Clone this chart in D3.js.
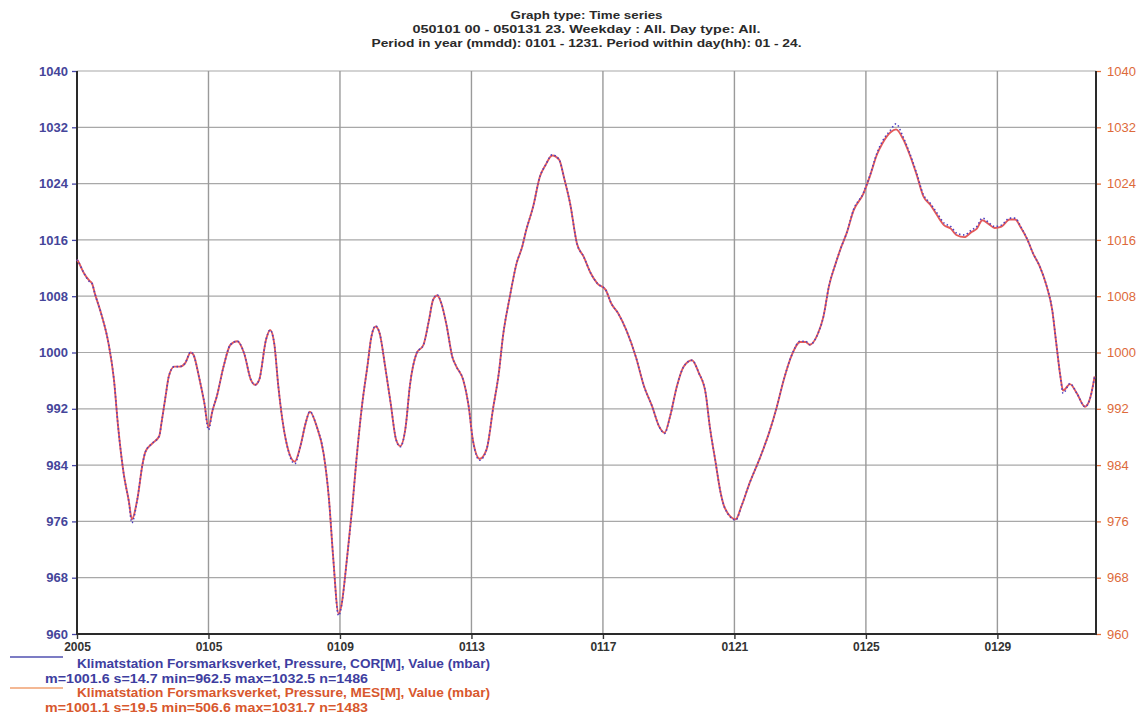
<!DOCTYPE html>
<html>
<head>
<meta charset="utf-8">
<script src="https://cdn.jsdelivr.net/npm/d3@7"></script>
<style>
html,body{margin:0;padding:0;background:#fff;}
svg{display:block;}
text{font-family:"Liberation Sans",Arial,sans-serif;}
</style>
</head>
<body>
<svg id="chart" width="1148" height="718"></svg>
<script>
// ---- data (hours since 2005-01-01 00:00, pressure in mbar) ----
const titleLines = [
  "Graph type: Time series",
  "050101 00 - 050131 23. Weekday : All. Day type: All.",
  "Period in year (mmdd): 0101 - 1231. Period within day(hh): 01 - 24."
];
const hours = [0,1,5,9,11,13,18,23,27,30,34,38,40,44,48,50,55,60,62,65,67,71,75,79,83,85,89,93,96,99,102,107,112,117,122,127,130,133,138,141,144,147,150,153,159,163,167,170,175,180,184,187,191,193,197,201,204,208,212,215,218,221,225,229,233,236,240,243,248,253,257,260,263,266,270,274,277,282,286,289,294,299,304,308,311,316,321,325,328,333,338,342,347,352,356,360,365,370,375,380,386,390,395,401,408,414,420,425,429,433,438,443,449,454,459,462,466,470,473,481,485,491,499,506,511,516,522,528,532,535,541,545,549,554,558,562,567,574,579,584,588,594,598,603,608,613,618,623,628,633,638,642,648,653,657,661,666,670,675,681,685,689,694,698,703,708,712,715,718,720,725,730,736,740,743];
const corValues = [1013.2,1012.9,1011.3,1010.1,1009.8,1008.4,1005.3,1001.3,996.1,989.5,982.9,978.6,975.8,979.1,984.3,985.9,987.1,988.1,990.4,994.2,996.6,998.0,998.0,998.5,1000.1,999.7,996.6,992.8,989.0,991.8,993.7,998.0,1001.1,1001.6,999.9,996.1,995.4,996.1,1001.8,1003.2,1001.3,995.2,990.4,987.1,984.2,986.6,990.0,991.6,989.5,985.7,979.1,971.0,962.6,963.9,970.5,978.1,984.7,992.3,998.0,1002.3,1003.8,1002.7,998.0,992.8,987.6,986.6,989.5,995.2,999.9,1001.1,1004.6,1007.5,1008.2,1007.0,1003.7,999.4,998.0,996.1,992.3,987.6,984.7,986.2,992.3,997.1,1002.3,1007.9,1012.7,1015.0,1017.4,1020.7,1025.0,1026.6,1028.1,1027.4,1024.5,1021.2,1015.5,1013.6,1011.3,1009.8,1008.9,1007.0,1005.6,1003.2,999.4,995.2,992.3,989.5,988.5,990.9,995.2,998.0,998.9,997.1,994.2,989.5,984.7,980.0,977.9,976.2,978.1,981.4,985.2,989.0,992.3,996.1,999.7,1001.6,1001.6,1001.1,1002.7,1005.1,1009.4,1012.7,1015.0,1017.0,1020.3,1022.6,1025.2,1028.3,1030.0,1031.6,1032.5,1030.7,1028.3,1025.5,1022.4,1021.2,1019.8,1018.4,1017.9,1017.0,1016.7,1017.4,1017.9,1019.1,1018.4,1017.9,1018.1,1019.1,1019.1,1017.9,1016.0,1014.1,1012.2,1009.4,1006.1,1001.3,996.6,994.2,995.6,994.2,992.3,993.7,996.6];
const mesValues = [1013.2,1012.9,1011.3,1010.2,1009.8,1008.4,1005.3,1001.3,996.1,989.5,982.9,978.7,976.3,979.1,984.3,985.9,987.1,988.1,990.4,994.2,996.6,998.0,998.0,998.5,1000.0,999.7,996.6,992.8,989.4,991.8,993.7,998.0,1001.1,1001.6,999.9,996.1,995.4,996.1,1001.8,1003.2,1001.3,995.2,990.4,987.1,984.5,986.6,990.0,991.6,989.5,985.7,979.1,971.0,962.9,964.0,970.5,978.1,984.7,992.3,998.0,1002.3,1003.7,1002.7,998.0,992.8,987.6,986.7,989.5,995.2,999.9,1001.1,1004.6,1007.5,1008.1,1007.0,1003.7,999.4,998.0,996.1,992.3,987.6,984.9,986.2,992.3,997.1,1002.3,1007.9,1012.7,1015.0,1017.4,1020.7,1025.0,1026.6,1028.0,1027.4,1024.5,1021.2,1015.5,1013.6,1011.3,1009.8,1008.9,1007.0,1005.6,1003.2,999.4,995.2,992.3,989.5,988.6,990.9,995.2,998.0,998.9,997.1,994.2,989.5,984.7,980.0,977.9,976.3,978.1,981.4,985.2,989.0,992.3,996.1,999.7,1001.5,1001.5,1001.1,1002.7,1005.1,1009.4,1012.7,1015.0,1017.0,1020.2,1022.5,1025.1,1028.1,1029.7,1031.3,1031.7,1030.4,1028.1,1025.3,1022.2,1021.0,1019.5,1018.1,1017.6,1016.7,1016.4,1017.1,1017.6,1018.8,1018.2,1017.7,1017.9,1018.9,1018.9,1017.8,1016.0,1014.1,1012.2,1009.4,1006.1,1001.3,996.6,994.6,995.5,994.2,992.3,993.7,996.6];
const yTicks = [960,968,976,984,992,1000,1008,1016,1024,1032,1040];
const xTickHours = [0,96,192,288,384,480,576,672];
const xTickLabels = ["2005","0105","0109","0113","0117","0121","0125","0129"];
const legendNames = [
  "Klimatstation Forsmarksverket, Pressure, COR[M], Value (mbar)",
  "Klimatstation Forsmarksverket, Pressure, MES[M], Value (mbar)"
];
const legendStats = [
  "m=1001.6 s=14.7 min=962.5 max=1032.5 n=1486",
  "m=1001.1 s=19.5 min=506.6 max=1031.7 n=1483"
];

// ---- drawing ----
const svg = d3.select("#chart");
const L = 77, R = 1096, T = 71, B = 634;
const x = d3.scaleLinear().domain([0, 744]).range([L, R]);
const y = d3.scaleLinear().domain([960, 1040]).range([B, T]);

const BLUE = "#4848a8", ORANGE = "#e0703c";
const FONT = "'Liberation Sans',Arial,sans-serif";

svg.append("rect").attr("width",1148).attr("height",718).attr("fill","#fff");

// title
const tl = [[15,152],[29,348],[43,430]];
titleLines.forEach((t,i)=>{
  svg.append("text").attr("x",(L+R)/2).attr("y",tl[i][0]).attr("dy","0.35em")
    .attr("text-anchor","middle").attr("font-size",11).attr("font-weight","bold")
    .attr("fill","#2a2a2a").attr("textLength",tl[i][1]).attr("lengthAdjust","spacingAndGlyphs")
    .text(t);
});

// grid
const grid = svg.append("g");
grid.selectAll("line.h").data(yTicks.filter(v=>v>960)).join("line")
  .attr("x1",L).attr("x2",R).attr("y1",d=>y(d)).attr("y2",d=>y(d))
  .attr("stroke","#a8a8a8").attr("stroke-width",1.2);
grid.selectAll("line.v").data(xTickHours.slice(1)).join("line")
  .attr("x1",d=>x(d)).attr("x2",d=>x(d)).attr("y1",T).attr("y2",B)
  .attr("stroke","#9a9a9a").attr("stroke-width",1.4);

// axes
const fmt = d3.format("d");
const yl = d3.axisLeft(y).tickValues(yTicks).tickSize(5).tickPadding(4).tickFormat(fmt);
const gl = svg.append("g").attr("transform",`translate(${L},0)`).call(yl);
gl.select(".domain").remove();
gl.selectAll("line").attr("stroke",BLUE).attr("stroke-width",1.3);
gl.selectAll("text").attr("fill","#45459a").attr("font-size",13).attr("font-weight","bold")
  .attr("font-family",FONT);

const yr = d3.axisRight(y).tickValues(yTicks).tickSize(5).tickPadding(6).tickFormat(fmt);
const gr = svg.append("g").attr("transform",`translate(${R},0)`).call(yr);
gr.select(".domain").remove();
gr.selectAll("line").attr("stroke",ORANGE).attr("stroke-width",1.3);
gr.selectAll("text").attr("fill","#dd6a3a").attr("font-size",13)
  .attr("font-family",FONT);

const xa = d3.axisBottom(x).tickValues(xTickHours).tickSize(5).tickPadding(3)
  .tickFormat((d,i)=>xTickLabels[i]);
const gx = svg.append("g").attr("transform",`translate(0,${B})`).call(xa);
gx.select(".domain").remove();
gx.selectAll("line").attr("stroke","#333").attr("stroke-width",1.4);
gx.selectAll("text").attr("fill","#333").attr("font-size",12).attr("font-weight","bold")
  .attr("font-family",FONT);

// frame lines (left, bottom, right)
svg.append("path").attr("d",`M${L},${T}V${B}H${R}V${T}`)
  .attr("fill","none").attr("stroke","#2a2a2a").attr("stroke-width",2);

// series
const line = d3.line().x(d=>x(d[0])).y(d=>y(d[1])).curve(d3.curveMonotoneX);
const corData = hours.map((h,i)=>[h,corValues[i]]);
const mesData = hours.map((h,i)=>[h,mesValues[i]]);
svg.append("path").datum(mesData).attr("d",line).attr("fill","none")
  .attr("stroke","#e45a5a").attr("stroke-width",1.9);
svg.append("path").datum(corData).attr("d",line).attr("fill","none")
  .attr("stroke","#5040c0").attr("stroke-width",1.6).attr("stroke-dasharray","1.5,2.5");

// legend
const lg = svg.append("g");
const legColors = ["#5050b0","#f0a070"];
const legText = ["#3e3ea0","#d8582e"];
const rows = [[657,668,683],[688,697,712]];
[0,1].forEach(i=>{
  lg.append("line").attr("x1",10).attr("x2",63).attr("y1",rows[i][0]).attr("y2",rows[i][0])
    .attr("stroke",legColors[i]).attr("stroke-width",1.5);
  lg.append("text").attr("x",77).attr("y",rows[i][1]).attr("font-size",12).attr("font-weight","bold")
    .attr("fill",legText[i]).attr("textLength",413).attr("lengthAdjust","spacingAndGlyphs")
    .text(legendNames[i]);
  lg.append("text").attr("x",45).attr("y",rows[i][2]).attr("font-size",12).attr("font-weight","bold")
    .attr("fill",legText[i]).attr("textLength",323).attr("lengthAdjust","spacingAndGlyphs")
    .text(legendStats[i]);
});
</script>
</body>
</html>
